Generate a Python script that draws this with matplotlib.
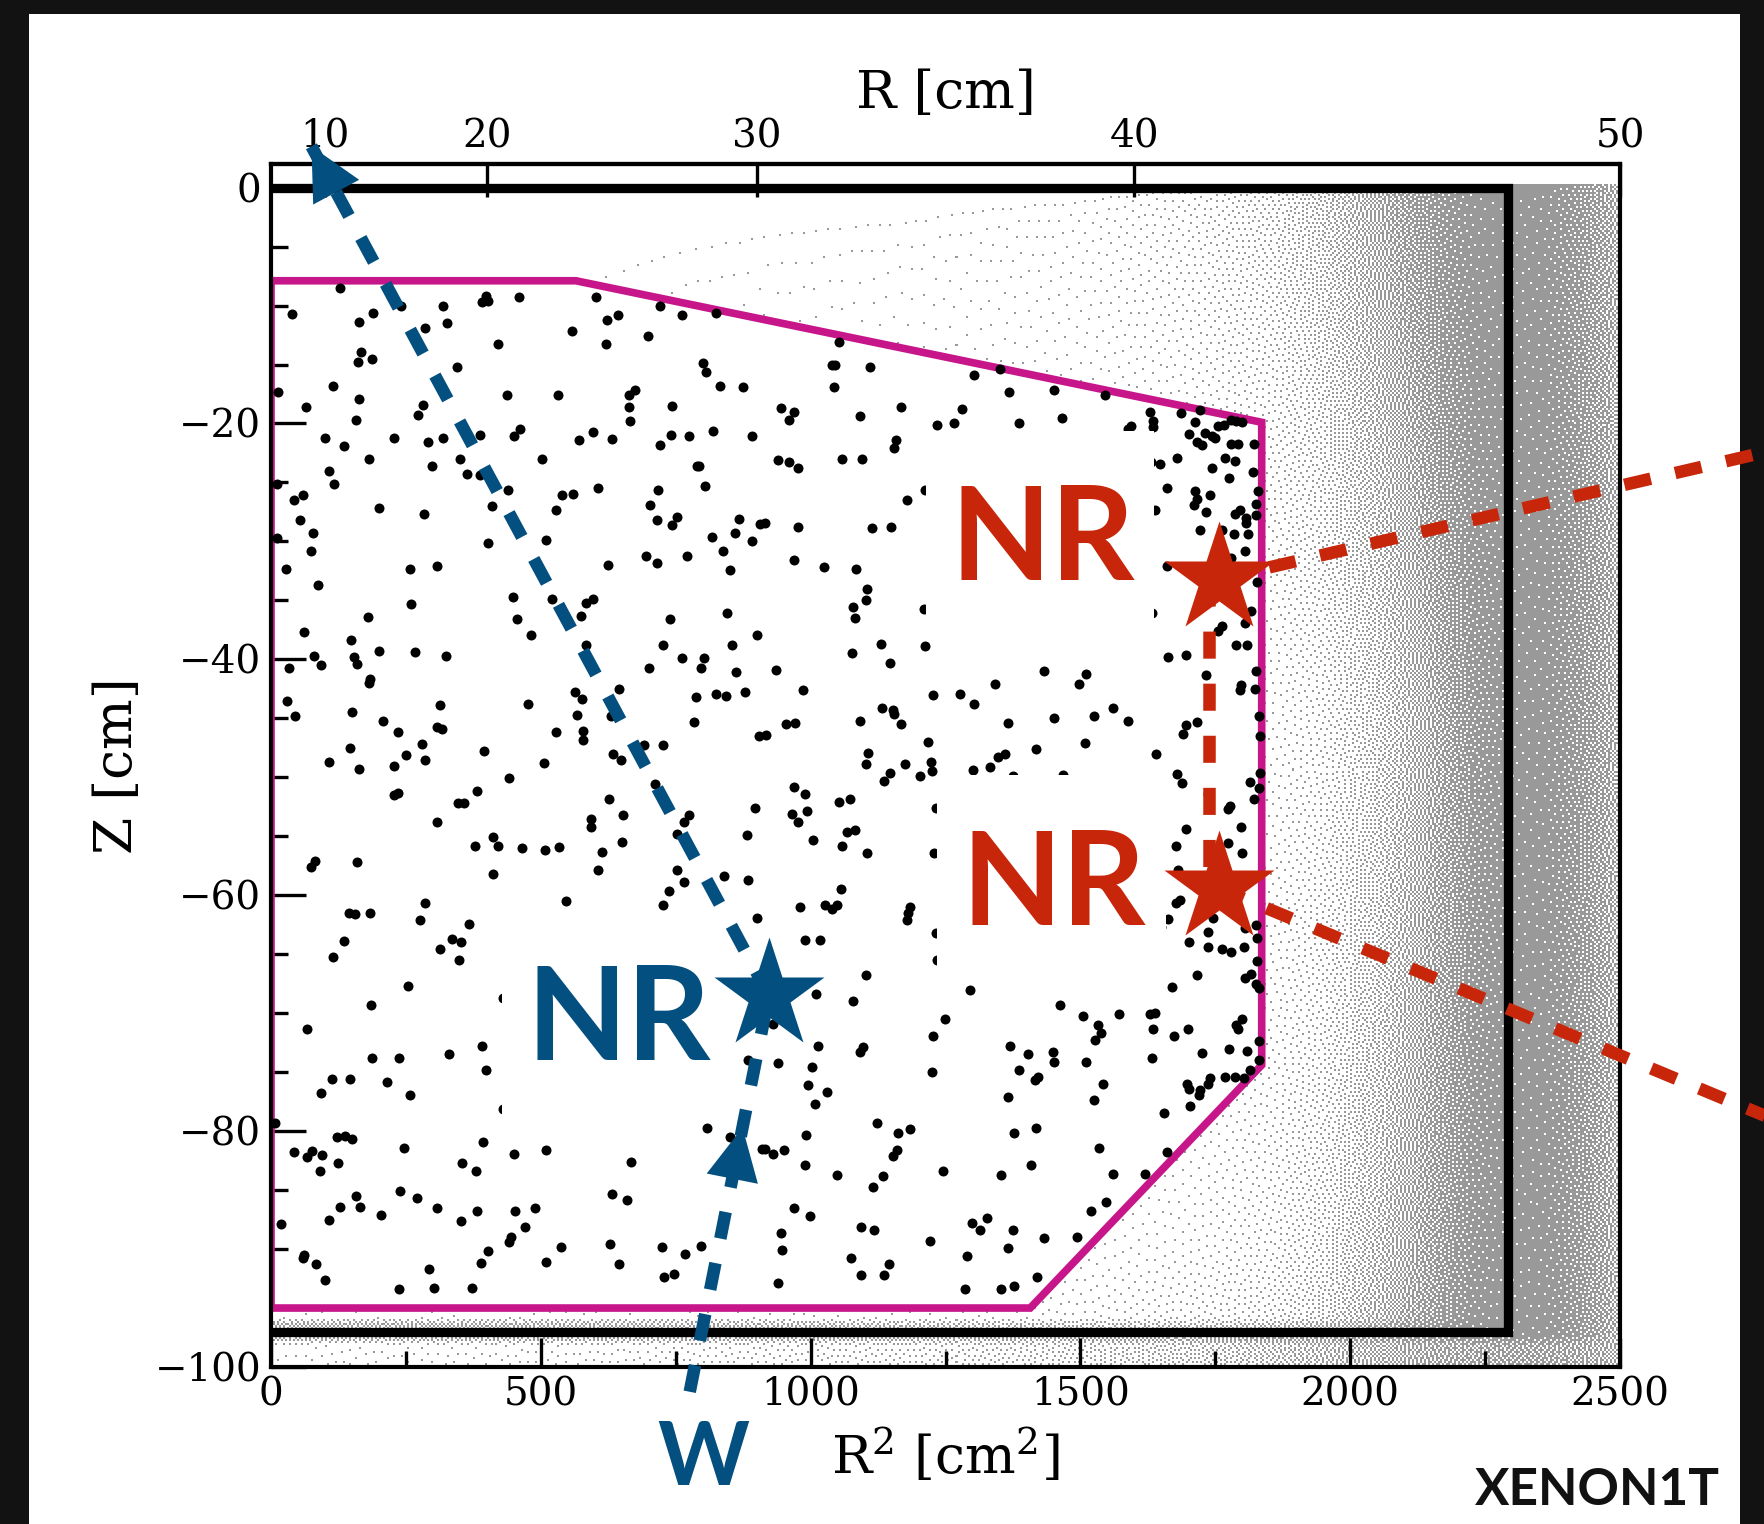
import numpy as np
import matplotlib
matplotlib.use('Agg')
import matplotlib.pyplot as plt
from matplotlib.patches import Rectangle, ArrowStyle
from matplotlib.path import Path
from matplotlib.ticker import NullLocator

plt.rcParams['font.family'] = ['DejaVu Serif']
plt.rcParams['mathtext.fontset'] = 'dejavuserif'
plt.rcParams['lines.scale_dashes'] = False

# ---------------- data ----------------
x_ticks = [0, 500, 1000, 1500, 2000, 2500]
x_minor = [250, 750, 1250, 1750, 2250]
y_ticks = [0, -20, -40, -60, -80, -100]
y_minor = [-5, -10, -15, -25, -30, -35, -45, -50, -55, -65, -70, -75, -85, -90, -95]
r_ticks = [10, 20, 30, 40, 50]

# fiducial volume boundary (R^2 [cm^2], Z [cm])
fid_r2 = [0, 565, 1836, 1836, 1407, 0]
fid_z = [-7.9, -7.9, -19.9, -74.4, -95.0, -95.0]
# TPC outline (top, wall, bottom)
tpc_r2 = [0, 2293, 2293, 0]
tpc_z = [0, 0, -97.0, -97.0]

# events inside the fiducial volume (R^2, Z), by region of the plot
events_upper_left = [(127,-8.5),(38,-10.7),(164,-11.4),(189,-10.6),(240,-10.0),(318,-10.0),(327,-11.5),(286,-11.9),(391,-9.7),(399,-9.2),(403,-9.6),(460,-9.3),(602,-9.3),(622,-11.2),(643,-10.8),(720,-10.0),(761,-10.8),(824,-10.6),(558,-12.2),(621,-13.3),(698,-12.6),(420,-13.3),(167,-13.9),(162,-14.8),(188,-14.5),(345,-15.2),(800,-14.9),(807,-15.6),(833,-16.8),(875,-16.9),(13,-17.3),(114,-16.8),(65,-18.6),(164,-17.9),(281,-18.4),(273,-19.3),(437,-17.6),(531,-17.6),(664,-17.6),(674,-17.2),(664,-18.6),(743,-18.5),(666,-19.8),(158,-19.7),(100,-21.2),(135,-21.9),(228,-21.2),(291,-21.6),(319,-21.2),(387,-21.0),(451,-21.1),(462,-20.5),(571,-21.4),(597,-20.7),(632,-21.3),(720,-21.8),(742,-21.0),(774,-21.1),(820,-20.6),(891,-21.1),(182,-23.0),(351,-23.0),(298,-23.6),(503,-23.0),(107,-24.0),(116,-25.1),(363,-24.3),(387,-24.4),(11,-25.1),(42,-26.5),(60,-26.1),(439,-25.6),(539,-26.1),(560,-26.0),(606,-25.5),(789,-23.6),(794,-23.6),(805,-25.3),(718,-25.6),(201,-27.2),(284,-27.7),(409,-27.0),(529,-27.3),(703,-26.9),(715,-28.2),(744,-28.6),(752,-27.9),(868,-28.1),(907,-28.5),(860,-29.3),(54,-28.2),(77,-29.3),(75,-30.8),(12,-29.7),(28,-32.3),(87,-33.7),(402,-30.1),(509,-29.9),(695,-31.2),(715,-31.8),(771,-31.2),(817,-29.6),(837,-30.8),(850,-32.4),(892,-30.0),(257,-32.3),(307,-32.1),(625,-32.0),(448,-34.7),(521,-34.9),(584,-35.2),(597,-34.9),(260,-35.3),(180,-36.4),(456,-36.6),(574,-36.3),(739,-36.6),(845,-36.1)]
events_upper_right = [(1052,-13.1),(1039,-15.0),(1046,-15.0),(1110,-15.2),(1044,-16.9),(1302,-15.9),(1351,-15.4),(1368,-17.3),(1451,-17.2),(1545,-17.6),(946,-18.7),(969,-19.0),(960,-19.7),(1092,-19.4),(1168,-18.6),(1235,-20.1),(1266,-20.0),(1281,-18.8),(1386,-20.0),(1466,-19.5),(1629,-19.0),(1594,-20.2),(1589,-20.5),(1635,-19.8),(1635,-20.3),(1686,-19.1),(1721,-18.9),(1712,-19.9),(1702,-20.9),(1731,-20.8),(1743,-21.1),(1749,-21.2),(1717,-21.6),(1725,-21.8),(1755,-20.2),(1767,-20.1),(1780,-19.7),(1789,-19.8),(1799,-19.9),(1780,-21.7),(1792,-21.7),(1821,-21.7),(1158,-21.4),(1155,-22.1),(940,-23.1),(960,-23.3),(976,-23.8),(1058,-23.0),(1096,-23.0),(1648,-23.4),(1631,-23.3),(1679,-22.9),(1744,-23.8),(1768,-22.9),(1787,-23.2),(1775,-24.6),(1820,-24.1),(1660,-25.5),(1712,-25.7),(1717,-26.4),(1710,-26.9),(1741,-26.1),(1830,-25.7),(1826,-26.8),(1638,-27.3),(1733,-27.5),(1786,-27.7),(1796,-27.3),(1806,-28.0),(1807,-28.4),(1825,-27.8),(1721,-29.0),(1762,-29.0),(1785,-29.4),(1810,-29.4),(1805,-30.8),(1212,-25.6),(1179,-26.5),(976,-28.8),(1113,-28.9),(1149,-28.8),(915,-28.4),(970,-31.6),(1024,-32.2),(1084,-32.3),(1104,-34.0),(1102,-35.0),(1079,-35.6),(1082,-36.5),(1211,-35.7),(1632,-36.1),(1660,-32.1),(1780,-31.4),(1828,-33.4),(1817,-35.9)]
events_middle_left = [(61,-37.7),(149,-38.4),(79,-39.7),(92,-40.5),(33,-40.7),(153,-39.8),(159,-40.4),(201,-39.3),(267,-39.4),(324,-39.7),(184,-41.7),(182,-42.0),(30,-43.5),(44,-44.8),(151,-44.5),(207,-45.2),(236,-46.2),(313,-43.9),(308,-45.7),(317,-45.9),(482,-37.9),(584,-38.8),(726,-38.8),(761,-39.9),(797,-40.7),(803,-39.9),(854,-38.8),(862,-41.1),(900,-37.9),(700,-40.7),(563,-42.8),(577,-43.4),(645,-42.5),(788,-43.2),(825,-42.9),(844,-43.1),(878,-42.8),(476,-43.8),(567,-44.7),(630,-44.8),(579,-46.1),(579,-46.8),(529,-46.2),(784,-45.3),(905,-46.5),(692,-47.3),(727,-47.3),(147,-47.5),(107,-48.7),(163,-49.3),(280,-47.2),(250,-48.1),(228,-49.0),(285,-48.5),(395,-47.8),(506,-48.8),(634,-48.0),(649,-48.5),(441,-50.1),(382,-51.2),(711,-50.6),(228,-51.5),(235,-51.3),(347,-52.2),(358,-52.2),(307,-53.8),(627,-51.8),(653,-53.2),(593,-53.5),(593,-54.2),(774,-53.2),(765,-53.8),(752,-54.8),(897,-52.6),(882,-54.9),(412,-55.1),(420,-55.8),(378,-55.8),(465,-56.0),(508,-56.2),(534,-55.9),(650,-55.5),(613,-56.3),(606,-57.9),(412,-58.2),(81,-57.1),(74,-57.6),(160,-57.2),(753,-57.9),(765,-58.9),(738,-59.6),(727,-60.8),(839,-58.4),(884,-58.7),(901,-61.9),(546,-60.5),(285,-60.7),(277,-62.1),(144,-61.5),(155,-61.6),(183,-61.5),(367,-62.4),(336,-63.7),(353,-64.0),(314,-64.6),(348,-65.5),(135,-63.9),(114,-65.2)]
events_middle_right = [(936,-40.9),(985,-42.6),(1076,-39.5),(1130,-38.7),(1148,-40.3),(1212,-38.9),(955,-45.5),(972,-45.4),(917,-46.4),(1091,-45.2),(1132,-44.1),(1152,-44.3),(1154,-44.6),(1167,-45.5),(1227,-43.0),(1277,-42.9),(1303,-43.8),(1342,-42.1),(1366,-45.4),(1433,-41.0),(1498,-42.1),(1510,-41.2),(1452,-45.0),(1526,-44.8),(1561,-44.1),(1589,-45.2),(1508,-47.1),(1418,-47.6),(1218,-47.0),(1107,-47.9),(1103,-48.9),(1148,-49.6),(1136,-50.3),(1175,-48.9),(1203,-49.9),(1224,-48.7),(1225,-49.5),(1301,-49.4),(1332,-49.1),(1348,-48.3),(1361,-48.0),(1376,-49.9),(1467,-49.8),(1641,-48.0),(1662,-39.8),(1696,-39.6),(1732,-41.3),(1762,-37.2),(1755,-37.6),(1805,-36.9),(1789,-38.8),(1808,-38.8),(1825,-41.0),(1797,-42.2),(1796,-42.6),(1823,-42.5),(1831,-44.8),(1833,-46.5),(1696,-45.6),(1716,-45.3),(1691,-46.3),(1679,-49.7),(1689,-50.5),(1832,-49.6),(1814,-50.4),(1831,-50.9),(1821,-51.8),(1736,-51.4),(1774,-52.7),(1778,-52.4),(1695,-54.4),(1798,-54.2),(1677,-55.8),(1773,-55.6),(1800,-56.4),(1680,-57.9),(1684,-60.4),(1677,-60.7),(1663,-62.0),(1650,-62.7),(1737,-63.1),(1746,-61.9),(1805,-62.8),(1826,-62.5),(1828,-63.6),(1702,-64.0),(1736,-64.4),(1763,-64.6),(1779,-64.8),(1804,-64.4),(1828,-65.6),(969,-50.8),(989,-51.4),(966,-53.1),(977,-53.8),(993,-52.9),(1052,-52.1),(1073,-51.8),(1067,-54.6),(1082,-54.5),(1059,-55.8),(1105,-56.4),(1005,-55.3),(1233,-52.6),(1229,-56.4),(1057,-59.5),(980,-61.0),(1027,-60.8),(1039,-61.2),(1048,-60.8),(1184,-61.0),(1180,-61.5),(1178,-62.1),(990,-63.8),(1017,-63.8),(1233,-63.2),(1235,-65.5)]
events_lower_left = [(254,-67.7),(186,-69.3),(67,-71.3),(430,-68.7),(187,-73.8),(237,-73.8),(330,-73.5),(391,-72.8),(398,-74.8),(113,-75.6),(147,-75.6),(92,-76.8),(215,-75.8),(258,-76.9),(430,-78.1),(7,-79.3),(43,-81.8),(67,-82.2),(76,-81.7),(94,-82.0),(122,-80.5),(137,-80.4),(150,-80.7),(125,-82.7),(91,-83.4),(246,-81.4),(354,-82.7),(380,-83.4),(393,-80.9),(451,-81.9),(510,-81.6),(668,-82.6),(808,-79.7),(850,-80.5),(873,-79.3),(884,-74.0),(910,-81.5),(157,-85.5),(165,-86.4),(128,-86.4),(107,-87.5),(203,-87.1),(239,-85.1),(270,-85.7),(308,-86.5),(352,-87.6),(382,-86.8),(453,-86.8),(490,-86.5),(632,-85.3),(659,-85.8),(470,-88.1),(441,-89.4),(445,-89.0),(402,-90.2),(390,-91.2),(509,-91.1),(538,-89.8),(628,-89.6),(645,-91.3),(724,-89.8),(768,-90.4),(796,-89.7),(729,-92.4),(747,-92.1),(19,-87.9),(62,-90.5),(59,-90.8),(84,-91.3),(101,-92.6),(238,-93.4),(302,-93.3),(293,-91.7),(372,-93.3)]
events_lower_right = [(1102,-66.8),(1010,-68.4),(1078,-69.0),(1295,-68.0),(931,-70.9),(1014,-72.8),(1097,-72.9),(1092,-73.3),(939,-74.2),(1002,-74.6),(996,-76.1),(1031,-76.7),(1008,-77.7),(1249,-70.5),(1227,-71.9),(1225,-75.0),(1463,-69.3),(1505,-70.2),(1533,-71.0),(1538,-71.7),(1527,-72.3),(1571,-70.1),(1629,-70.1),(1638,-70.0),(1634,-71.3),(1670,-67.8),(1716,-66.8),(1673,-71.9),(1700,-71.3),(1632,-73.8),(1805,-67.0),(1817,-66.7),(1826,-67.5),(1831,-67.9),(1800,-70.5),(1788,-71.0),(1792,-71.3),(1831,-72.4),(1775,-73.0),(1808,-73.2),(1725,-73.4),(1369,-72.8),(1403,-73.5),(1449,-73.3),(1451,-74.1),(1387,-74.8),(1510,-74.1),(1416,-75.7),(1421,-75.4),(1542,-76.0),(1365,-77.1),(1525,-77.4),(1697,-76.0),(1701,-76.4),(1721,-76.5),(1720,-76.9),(1740,-75.5),(1737,-76.0),(1768,-75.4),(1787,-75.4),(1804,-75.5),(1815,-74.8),(1831,-74.0),(1655,-78.5),(1703,-77.9),(1123,-79.3),(1162,-80.2),(1185,-79.8),(1160,-81.6),(1152,-82.1),(992,-80.3),(915,-81.5),(931,-81.9),(951,-81.6),(989,-82.9),(1049,-83.7),(1135,-83.8),(1115,-84.7),(1246,-83.4),(1377,-80.2),(1418,-79.7),(1534,-81.4),(1660,-81.8),(1620,-83.6),(1560,-83.6),(1408,-82.9),(1352,-83.7),(970,-86.5),(999,-87.2),(945,-88.6),(947,-90.1),(939,-92.9),(1093,-88.1),(1117,-88.4),(1074,-90.8),(1145,-91.3),(1093,-92.2),(1136,-92.2),(1222,-89.3),(1299,-87.8),(1314,-88.4),(1327,-87.4),(1376,-88.4),(1365,-89.9),(1290,-90.6),(1433,-89.1),(1493,-89.0),(1519,-86.8),(1547,-86.0),(1419,-92.4),(1287,-93.4),(1353,-93.4),(1377,-93.1)]

# interaction sites and neutron paths
blue_star = (922.7, -68.5)
red_star_top = (1756, -33.2)
red_star_bottom = (1756, -59.4)
blue_entry = (776, -102.1)
blue_arrow_tip = (873.8, -79.7)
blue_exit_tip = (75, 3.5)
red_link_r2 = 1739
red_exit_top = (2800, -22.1)
red_exit_bottom = (2800, -79.3)

# estimated density of the background (all-event) cloud
bg_r2 = [0, 600, 1200, 1500, 1700, 1850, 1950, 2050, 2120, 2180, 2230, 2293,
         2300, 2360, 2400, 2440, 2470, 2492, 2500]
bg_z = [0.3, -1, -20, -45, -70, -90, -95.9, -96.3, -97.4, -98.2, -100]
outer = [0.97, 0.96, 0.88, 0.75, 0.65, 0.55, 0.0]
bg_density = [
    [0.004, 0.006, 0.015, 0.03, 0.07, 0.14, 0.28, 0.52, 0.72, 0.88, 0.96, 0.98] + outer,
    [0.004, 0.006, 0.015, 0.03, 0.07, 0.14, 0.28, 0.52, 0.72, 0.88, 0.96, 0.98] + outer,
    [0.003, 0.004, 0.01, 0.02, 0.04, 0.08, 0.18, 0.40, 0.60, 0.80, 0.93, 0.97] + outer,
    [0.002, 0.002, 0.005, 0.01, 0.02, 0.04, 0.10, 0.26, 0.45, 0.66, 0.85, 0.95] + outer,
    [0.002, 0.002, 0.005, 0.01, 0.02, 0.05, 0.12, 0.30, 0.50, 0.70, 0.88, 0.96] + outer,
    [0.004, 0.005, 0.01, 0.02, 0.04, 0.08, 0.16, 0.36, 0.56, 0.76, 0.91, 0.97] + outer,
    [0.02, 0.02, 0.03, 0.05, 0.08, 0.12, 0.22, 0.42, 0.62, 0.80, 0.93, 0.98] + outer,
    [0.45, 0.40, 0.30, 0.25, 0.25, 0.30, 0.40, 0.55, 0.70, 0.85, 0.95, 0.98] + outer,
    [0.60, 0.60, 0.60, 0.60, 0.65, 0.70, 0.70, 0.75, 0.80, 0.85, 0.90, 0.95] + outer,
    [0.04, 0.06, 0.12, 0.18, 0.25, 0.32, 0.40, 0.48, 0.55, 0.60, 0.62, 0.65] + [0.65, 0.65, 0.62, 0.58, 0.55, 0.50, 0.0],
    [0.04, 0.06, 0.12, 0.18, 0.25, 0.32, 0.40, 0.48, 0.55, 0.60, 0.62, 0.65] + [0.65, 0.65, 0.62, 0.58, 0.55, 0.50, 0.0],
]

# ---------------- style ----------------
BLUE = '#034f7f'
RED = '#c8260b'
MAGENTA = '#c7168a'
GRAY = (0.6, 0.6, 0.6)
W_PX, H_PX = 1764, 1524

fig = plt.figure(figsize=(W_PX / 100, H_PX / 100), dpi=100)
fig.patch.set_facecolor('#121212')
fig.add_artist(Rectangle((29 / W_PX, 0), (1740 - 29) / W_PX, (H_PX - 14) / H_PX,
                         transform=fig.transFigure, facecolor='white',
                         edgecolor='none', zorder=-10))

ax = fig.add_axes([271 / W_PX, 1 - 1367 / H_PX, 1349 / W_PX, 1203 / H_PX])
ax.set_xlim(0, 2500)
ax.set_ylim(-100, 2)

# background cloud rendered by error diffusion of the density map
nx, nz = 674, 601
xc = (np.arange(nx) + 0.5) * 2500 / nx
zc = 2 - (np.arange(nz) + 0.5) * 102 / nz
rows = np.array([np.interp(xc, bg_r2, r) for r in bg_density])
kf = np.interp(-zc, -np.array(bg_z), np.arange(len(bg_z)))
k0 = np.floor(kf).astype(int)
k1 = np.minimum(k0 + 1, len(bg_z) - 1)
f = (kf - k0)[:, None]
dens = rows[k0] * (1 - f) + rows[k1] * f
dens[zc > 0.3, :] = 0.0
grid = dens.tolist()
on = np.zeros((nz, nx), dtype=bool)
for i in range(nz):
    row = grid[i]
    nxt = grid[i + 1] if i + 1 < nz else None
    flags = [False] * nx
    rng = range(nx) if i % 2 == 0 else range(nx - 1, -1, -1)
    step = 1 if i % 2 == 0 else -1
    for j in rng:
        old = row[j]
        if old >= 0.5:
            flags[j] = True
            err = old - 1.0
        else:
            err = old
        if err == 0.0:
            continue
        jn = j + step
        if 0 <= jn < nx:
            row[jn] += err * 0.4375
        if nxt is not None:
            jb = j - step
            if 0 <= jb < nx:
                nxt[jb] += err * 0.1875
            nxt[j] += err * 0.3125
            if 0 <= jn < nx:
                nxt[jn] += err * 0.0625
    on[i] = flags
img = np.ones((nz, nx, 4))
img[..., 3] = 0.0
img[on, 0:3] = GRAY
img[on, 3] = 1.0
ax.imshow(img, extent=[0, 2500, -100, 2], origin='upper', aspect='auto',
          interpolation='nearest', zorder=0.5)

# fiducial volume
ax.fill(fid_r2, fid_z, facecolor='white', edgecolor='none', zorder=1)
ax.plot(fid_r2 + fid_r2[:1], fid_z + fid_z[:1], color=MAGENTA, lw=5.5,
        solid_joinstyle='miter', zorder=2)
# TPC boundary
ax.plot(tpc_r2, tpc_z, color='black', lw=6.7, solid_joinstyle='miter',
        solid_capstyle='butt', zorder=2.2)

# events
events = np.array(events_upper_left + events_upper_right + events_middle_left +
                  events_middle_right + events_lower_left + events_lower_right)
ax.plot(events[:, 0], events[:, 1], 'o', color='black', ms=7.2, mec='none',
        zorder=2.5)


# labels with white masking boxes
def mask_box(x0, y0, width, height, mutation_size):
    x1 = x0 - 0.19 * mutation_size
    x2 = x0 + width + 0.15 * mutation_size
    y1 = y0 - 0.26 * mutation_size
    y2 = y0 + height + 0.40 * mutation_size
    return Path([(x1, y1), (x2, y1), (x2, y2), (x1, y2), (x1, y1)], closed=True)


nr_kw = dict(ha='center', va='baseline', fontsize=94, fontweight='bold',
             family=['Lato', 'DejaVu Sans'], zorder=3,
             bbox=dict(boxstyle=mask_box, facecolor='white', edgecolor='none'))
ax.text(645, -74.0, 'NR', color=BLUE, **nr_kw)
ax.text(1430, -33.3, 'NR', color=RED, **nr_kw)
ax.text(1451, -62.5, 'NR', color=RED, **nr_kw)

# neutron paths
dash = (0, (19.5, 18.0))
ax.plot([blue_entry[0], blue_star[0]], [blue_entry[1], blue_star[1]], color=BLUE,
        lw=9, ls=dash, clip_on=False, zorder=4)
ax.plot([blue_star[0], blue_exit_tip[0]], [blue_star[1], blue_exit_tip[1]],
        color=BLUE, lw=9, ls=dash, clip_on=False, zorder=4)
ax.plot([red_link_r2, red_link_r2], [red_star_top[1], red_star_bottom[1]],
        color=RED, lw=9, ls=dash, clip_on=False, zorder=4)
ax.plot([red_star_top[0], red_exit_top[0]], [red_star_top[1], red_exit_top[1]],
        color=RED, lw=9, ls=dash, clip_on=False, zorder=4)
ax.plot([red_star_bottom[0], red_exit_bottom[0]],
        [red_star_bottom[1], red_exit_bottom[1]],
        color=RED, lw=9, ls=dash, clip_on=False, zorder=4)


def arrow_head(tip, behind, color):
    p_tip = ax.transData.transform(tip)
    p_back = ax.transData.transform(behind)
    v = p_back - p_tip
    v = v / np.hypot(*v)
    tail = ax.transData.inverted().transform(p_tip + v * 80)
    ax.annotate('', xy=tip, xytext=tail, xycoords='data', textcoords='data',
                annotation_clip=False, zorder=5,
                arrowprops=dict(arrowstyle=ArrowStyle('-|>', head_length=37.5,
                                                      head_width=18.8),
                                mutation_scale=1, color=color, lw=0,
                                shrinkA=0, shrinkB=0))


arrow_head(blue_arrow_tip, blue_entry, BLUE)
arrow_head(blue_exit_tip, blue_star, BLUE)

# interaction stars
ax.plot(*blue_star, marker='*', ms=83.5, color=BLUE, mec='none', zorder=6,
        clip_on=False)
ax.plot(*red_star_top, marker='*', ms=83.5, color=RED, mec='none', zorder=6,
        clip_on=False)
ax.plot(*red_star_bottom, marker='*', ms=83.5, color=RED, mec='none', zorder=6,
        clip_on=False)

ax.text(801, -110.0, 'W', ha='center', va='baseline', fontsize=63,
        fontweight='bold', family=['Lato', 'DejaVu Sans'], color=BLUE)
fig.text(1719.7 / W_PX, 1 - 1505 / H_PX, 'XENON1T', ha='right', va='baseline',
         fontsize=37, fontweight='bold', family=['Lato', 'DejaVu Sans'],
         color='#111111')

# axes styling
ax.set_xticks(x_ticks)
ax.set_xticks(x_minor, minor=True)
ax.set_yticks(y_ticks)
ax.set_yticks(y_minor, minor=True)
ax.tick_params(axis='x', which='major', direction='in', length=21, width=2.4,
               labelsize=28, pad=7, top=False)
ax.tick_params(axis='x', which='minor', direction='in', length=11.5, width=2.4,
               top=False)
ax.tick_params(axis='y', which='major', direction='in', length=25, width=2.4,
               labelsize=28, pad=7, right=False)
ax.tick_params(axis='y', which='minor', direction='in', length=12, width=2.4,
               right=False)
for s in ax.spines.values():
    s.set_linewidth(3.0)
ax.set_xlabel('R$^2$ [cm$^2$]', fontsize=38.5, labelpad=10)
ax.set_ylabel('Z [cm]', fontsize=38.5, labelpad=8)

secax = ax.secondary_xaxis('top', functions=(lambda x: np.sqrt(np.clip(x, 0, None)),
                                              lambda r: np.asarray(r) ** 2))
secax.set_xticks(r_ticks)
secax.xaxis.set_minor_locator(NullLocator())
secax.tick_params(direction='in', length=24, width=2.4, labelsize=28, pad=6)
secax.spines['top'].set_linewidth(3.0)
secax.set_xlabel('R [cm]', fontsize=38.5, labelpad=8)

fig.savefig('out.png', dpi=100, facecolor=fig.get_facecolor())
